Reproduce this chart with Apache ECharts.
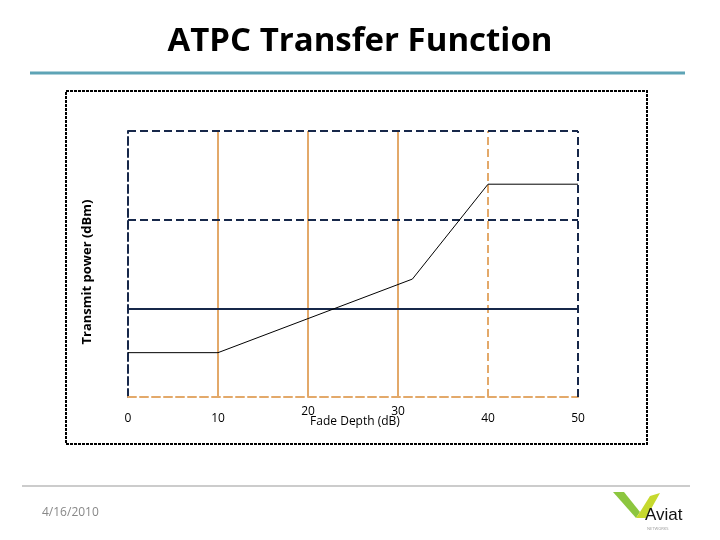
<!DOCTYPE html>
<html><head><meta charset="utf-8">
<script src="https://cdn.jsdelivr.net/npm/echarts@6/dist/echarts.min.js"></script>
<style>html,body{margin:0;padding:0;background:#fff}#c{width:720px;height:540px}</style>
</head><body><div id="c"></div>
<script>
var fadeDepth = [0, 10, 31.6, 40, 50];
var transmitPower = [5, 5, 13.3, 24, 24];
var xTicks = [0, 10, 20, 30, 40, 50];
var raisedTicks = [20, 30];
var solidVerticals = [10, 20, 30];
var dashedVerticals = [40];
var rightEdge = [50];
var solidHorizontals = [10];
var dashedHorizontals = [20, 30];

var navy = '#17284a', orange = '#e3a96a';
var chart = echarts.init(document.getElementById('c'));
function ml(vals, axis, color, type, w) {
  return vals.map(function (v) {
    var o = {}; o[axis] = v;
    o.lineStyle = {color: color, type: type, width: w};
    return o;
  });
}
chart.setOption({
  animation: false,
  title: {text: 'ATPC Transfer Function', left: 'center', top: 20,
    textStyle: {fontFamily: 'Open Sans', fontWeight: 'bold', fontSize: 33, color: '#000'}},
  grid: {left: 128, right: 142, top: 131, bottom: 143},
  xAxis: {type: 'value', min: 0, max: 50, interval: 10,
    axisLine: {lineStyle: {color: orange, type: 'dashed', width: 2}},
    axisTick: {show: false}, splitLine: {show: false},
    axisLabel: {margin: 9, fontFamily: 'Open Sans', fontSize: 12, color: '#000',
      formatter: function (v) { return raisedTicks.indexOf(v) >= 0 ? '{up|' + v + '}' : '{dn|' + v + '}'; },
      rich: {up: {fontFamily: 'Open Sans', fontSize: 12, color: '#000'},
             dn: {fontFamily: 'Open Sans', fontSize: 12, color: '#000', padding: [7, 0, 0, 0]}}}},
  yAxis: {type: 'value', min: 0, max: 30, interval: 10,
    axisLine: {show: true, lineStyle: {color: navy, type: 'dashed', width: 2}},
    axisTick: {show: false}, axisLabel: {show: false}, splitLine: {show: false}},
  series: [{
    type: 'line', data: fadeDepth.map(function (x, i) { return [x, transmitPower[i]]; }),
    symbol: 'none', lineStyle: {color: '#000', width: 1}, z: 5,
    markLine: {silent: true, symbol: 'none', label: {show: false}, z: 1,
      data: [].concat(
        ml(solidVerticals, 'xAxis', orange, 'solid', 2),
        ml(dashedVerticals, 'xAxis', orange, 'dashed', 2),
        ml(rightEdge, 'xAxis', navy, 'dashed', 2),
        ml(solidHorizontals, 'yAxis', navy, 'solid', 2),
        ml(dashedHorizontals, 'yAxis', navy, 'dashed', 2))}
  }],
  graphic: [
    {type: 'line', shape: {x1: 30, y1: 73, x2: 685, y2: 73}, style: {stroke: '#5ea4b6', lineWidth: 3}},
    {type: 'rect', shape: {x: 66, y: 91, width: 581, height: 353},
      style: {fill: 'none', stroke: '#000', lineWidth: 2, lineDash: [3, 1]}},
    {type: 'text', x: 355, y: 422,
      style: {text: 'Fade Depth (dB)', fontFamily: 'Open Sans', fontSize: 12,
        fill: '#000', align: 'center', verticalAlign: 'middle'}},
    {type: 'text', x: 87, y: 272, rotation: Math.PI / 2,
      style: {text: 'Transmit power (dBm)', fontFamily: 'Open Sans', fontWeight: 'bold', fontSize: 13,
        fill: '#000', align: 'center', verticalAlign: 'middle'}},
    {type: 'line', shape: {x1: 22, y1: 486, x2: 690, y2: 486}, style: {stroke: '#999', lineWidth: 1}},
    {type: 'text', left: 42, top: 507, style: {text: '4/16/2010', fontFamily: 'Open Sans', fontSize: 12, fill: '#888'}},
    {type: 'polygon', shape: {points: [[613, 492], [624, 492], [640, 512], [636, 518]]}, style: {fill: '#8cc63f'}},
    {type: 'polygon', shape: {points: [[640, 512], [650, 496], [660, 493], [646, 518], [636, 518]]}, style: {fill: '#c6d92e'}},
    {type: 'text', left: 645, top: 507, style: {text: 'Aviat', fontFamily: 'Liberation Sans Narrow, Liberation Sans', fontSize: 17, fill: '#111'}},
    {type: 'text', left: 647, top: 527, style: {text: 'NETWORKS', fontFamily: 'Open Sans', fontSize: 4, fill: '#999'}}
  ]
});
</script></body></html>
